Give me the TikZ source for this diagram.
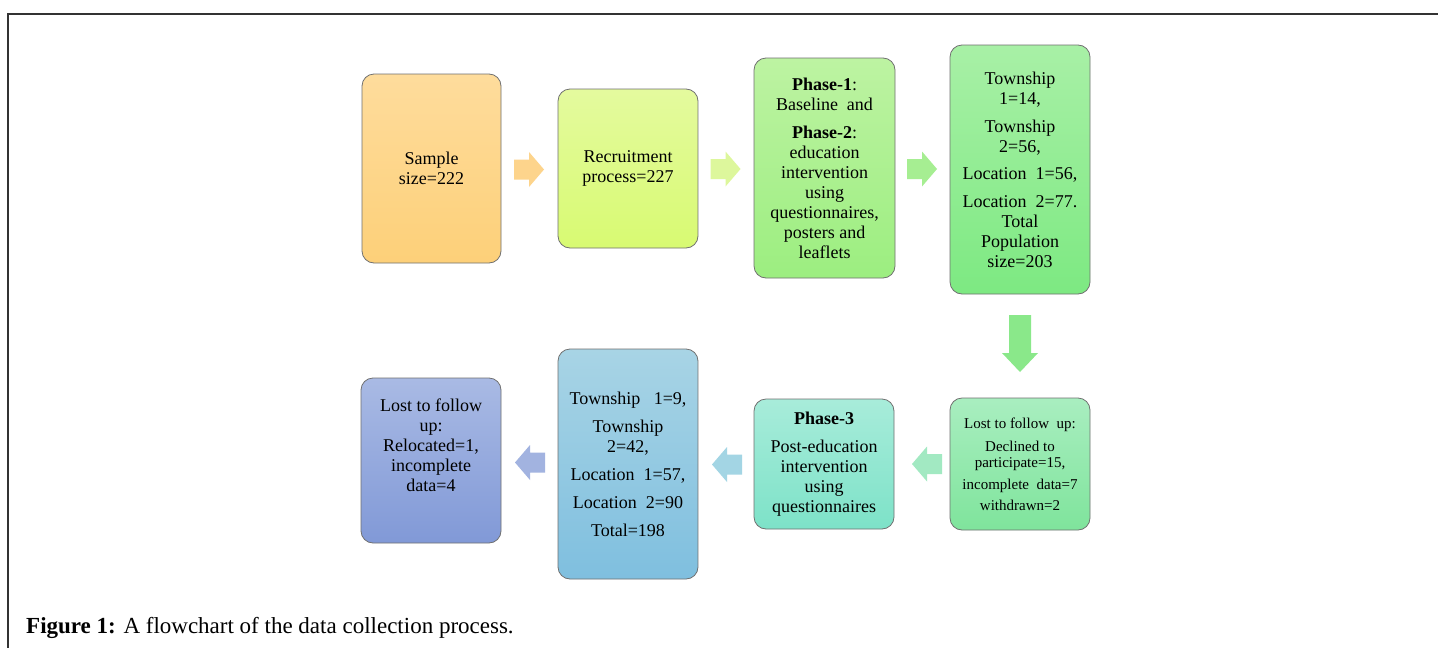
\documentclass[tikz,border=0pt]{standalone}
\usepackage{fontspec}
\setmainfont{Liberation Serif}
\begin{document}
\begin{tikzpicture}[x=1pt,y=-1pt,
  box/.style={draw=boxline, line width=0.8pt, rounded corners=12pt, align=center,
    inner sep=2pt, font=\fontsize{18}{20}\selectfont},
  harrow/.pic={\path[pic actions] (-15,-10)--(0,-10)--(0,-17.5)--(15,0)--(0,17.5)--(0,10)--(-15,10)--cycle;},
  varrow/.pic={\path[pic actions] (-28.5,-11)--(9.5,-11)--(9.5,-18)--(28.5,0)--(9.5,18)--(9.5,11)--(-28.5,11)--cycle;}
]
\definecolor{boxline}{HTML}{707070}
\definecolor{frameline}{HTML}{333333}
\definecolor{c1t}{HTML}{FEDC9C}\definecolor{c1b}{HTML}{FDD079}
\definecolor{c2t}{HTML}{E4FA9E}\definecolor{c2b}{HTML}{D8FA72}
\definecolor{c3t}{HTML}{BDF3A2}\definecolor{c3b}{HTML}{9CEE80}
\definecolor{c4t}{HTML}{A8F0A6}\definecolor{c4b}{HTML}{7DE982}
\definecolor{c5t}{HTML}{A9EEC0}\definecolor{c5b}{HTML}{7FE49C}
\definecolor{c6t}{HTML}{A8ECDA}\definecolor{c6b}{HTML}{7DE2C8}
\definecolor{c7t}{HTML}{A8D4E5}\definecolor{c7b}{HTML}{7FBFDF}
\definecolor{c8t}{HTML}{A9BAE4}\definecolor{c8b}{HTML}{8199D7}
\definecolor{a1}{HTML}{FDD48C}\definecolor{a2}{HTML}{DDF79C}
\definecolor{a3}{HTML}{A6EE92}\definecolor{a4}{HTML}{8AE88A}
\definecolor{a5}{HTML}{A2E9C2}\definecolor{a6}{HTML}{A3D5E4}
\definecolor{a7}{HTML}{A2B3E0}

\useasboundingbox (0,0) rectangle (1438,648);
\fill[white] (0,0) rectangle (1438,648);
\draw[frameline, line width=1.4pt] (8,648) -- (8,14) -- (1438,14);

% top row
\node[box, top color=c1t, bottom color=c1b, minimum width=139pt, minimum height=189pt] (b1) at (431.5,168.5)
  {Sample\\ size=222};
\node[box, top color=c2t, bottom color=c2b, minimum width=140pt, minimum height=159pt] (b2) at (628,168.5)
  {Recruitment\\ process=227};
\node[box, top color=c3t, bottom color=c3b, minimum width=141pt, minimum height=220pt] (b3) at (824.5,168)
  {\textbf{Phase-1}:\\ Baseline\ \ and\\[8pt] \textbf{Phase-2}:\\ education\\ intervention\\ using\\ questionnaires,\\ posters and\\ leaflets};
\node[box, top color=c4t, bottom color=c4b, minimum width=140pt, minimum height=249pt] (b4) at (1020,169.5)
  {Township\\ 1=14,\\[8pt] Township\\ 2=56,\\[7pt] Location\ \ 1=56,\\[8pt] Location\ \ 2=77.\\ Total\\ Population\\ size=203};

% bottom row
\node[box, top color=c5t, bottom color=c5b, minimum width=140pt, minimum height=132pt,
  font=\fontsize{15}{16}\selectfont] (b5) at (1020,464)
  {Lost to follow\ \ up:\\[7pt] Declined to\\ participate=15,\\[6pt] incomplete\ \ data=7\\[5pt] withdrawn=2};
\node[box, top color=c6t, bottom color=c6b, minimum width=140pt, minimum height=130pt] (b6) at (824,464)
  {\textbf{Phase-3}\\[8pt] Post-education\\ intervention\\ using\\ questionnaires};
\node[box, top color=c7t, bottom color=c7b, minimum width=140pt, minimum height=230pt] (b7) at (628,464)
  {Township\ \ \ 1=9,\\[8pt] Township\\ 2=42,\\[8pt] Location\ \ 1=57,\\[8pt] Location\ \ 2=90\\[8pt] Total=198};
\node[box, top color=c8t, bottom color=c8b, minimum width=140pt, minimum height=165pt] (b8) at (431,460.5)
  {Lost to follow\\ up:\\ Relocated=1,\\ incomplete\\ data=4\\[11pt]\mbox{}};

% block arrows
\pic[fill=a1] at (529,169.5) {harrow};
\pic[fill=a2] at (725.5,169) {harrow};
\pic[fill=a3] at (922,169) {harrow};
\pic[fill=a4, rotate=-90] at (1020,343.5) {varrow};
\pic[fill=a5, rotate=180] at (927,464) {harrow};
\pic[fill=a6, rotate=180] at (727,464.5) {harrow};
\pic[fill=a7, rotate=180] at (530,462.5) {harrow};

% caption
\node[anchor=base west, inner sep=0pt, font=\fontsize{23}{26}\selectfont] (cap) at (26,633)
  {\textbf{Figure 1:} A flowchart of the data collection process.};
\end{tikzpicture}
\end{document}
